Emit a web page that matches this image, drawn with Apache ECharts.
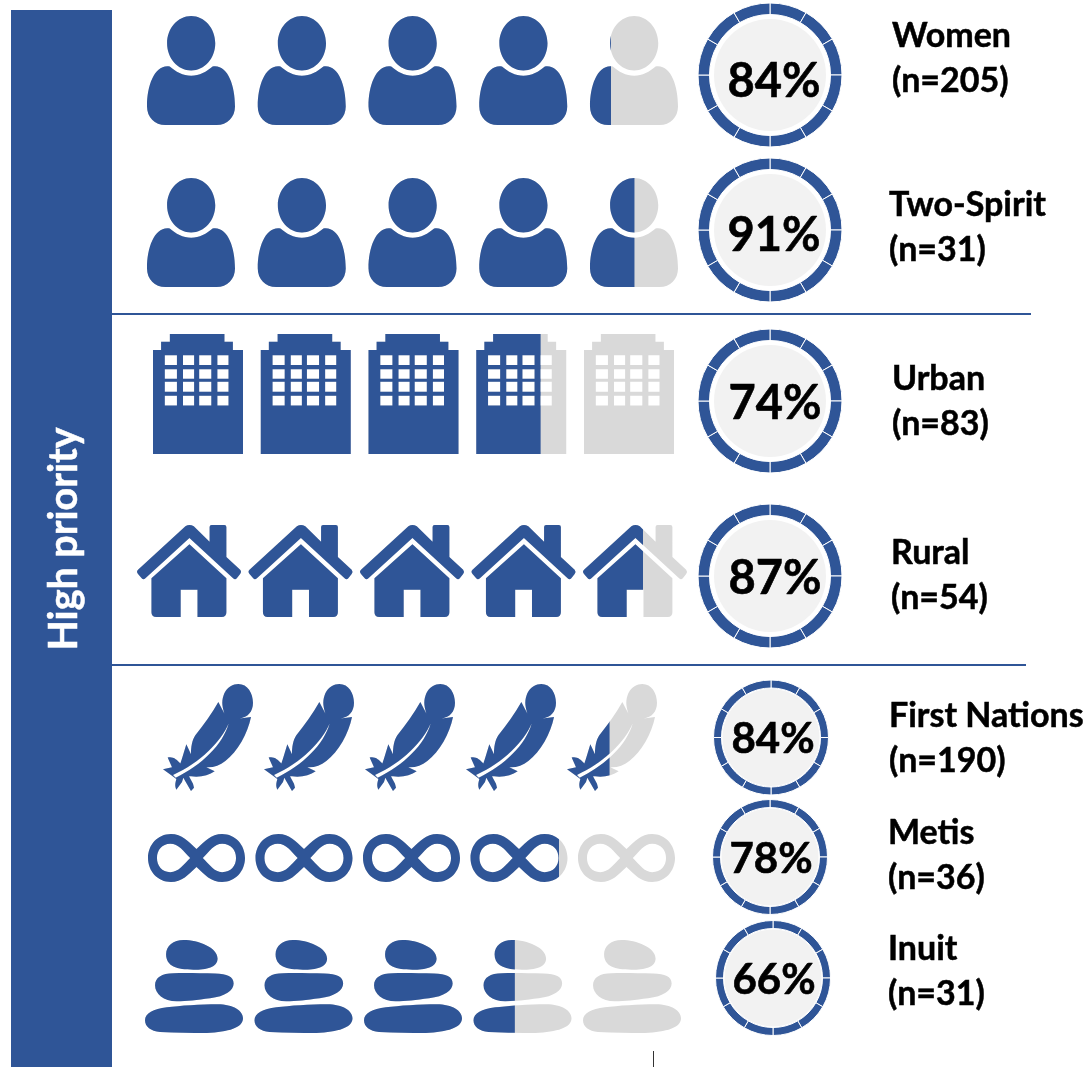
<!DOCTYPE html>
<html><head><meta charset="utf-8">
<style>html,body{margin:0;padding:0;background:#fff}#c{width:1086px;height:1067px}</style>
<script src="https://cdn.jsdelivr.net/npm/echarts@6/dist/echarts.min.js"></script>
</head><body><div id="c"></div>
<script>
// DATA
const groupNames = ['Women','Two-Spirit','Urban','Rural','First Nations','Metis','Inuit'];
const sampleSizes = [205,31,83,54,190,36,31];
const percentages = [84,91,74,87,84,78,66];
// how far along the row of five icons the blue reaches, in icons, as drawn
const filledIcons = [4.37,4.59,3.72,4.6,4.52,3.9,3.45];
const iconsPerRow = 5;
const sideLabel = 'High priority';

const BLUE='#2F5597', GRAY='#D9D9D9', DISC='#F2F2F2', FONT='Lato, Carlito, "Open Sans", sans-serif';

// ICON SHAPES
const person='path://M182 48C222 48 254 85 254 130C254 175 222 212 182 212C142 212 110 175 110 130C110 85 142 48 182 48Z'+
 'M118 200C135 215 158 228 182 228C206 228 229 215 246 200C290 192 313 255 313 320C313 352 290 376 258 376L105 376C73 376 50 352 50 320C50 255 74 192 118 200Z';
function win(x0,x1,y0,y1){return `M${x0} ${y0}L${x0} ${y1}L${x1} ${y1}L${x1} ${y0}Z`;}
let building='path://M393 33L555 33L555 57L580 57L580 82L610 82L610 400L343 400L343 82L367 82L367 57L393 57Z';
[[98,128],[141,170],[179,210],[222,252]].forEach(r=>{[[378,414],[432,465],[480,516],[534,567]].forEach(c=>{building+=win(c[0],c[1],r[0],r[1]);});});
const house='path://M24 178L165 50Q177 42 190 50L237 95L237 52Q237 46 243 46L281 46Q287 46 287 52L287 140L328 178Q333 184 328 190L318 203Q313 209 307 203L177 84L46 203Q40 209 35 203L24 190Q18 184 24 178Z'+
 'M177 103L287 203L287 303Q287 317 273 317L201 317L201 237L151 237L151 317L78 317Q64 317 64 303L64 203Z';
const feather='path://M204 96L222 130C214 105 214 90 222 70C232 50 248 42 264 42C292 42 308 70 308 98C308 125 292 142 268 145L302 141C292 190 262 245 225 272C208 286 190 292 168 291L193 303C175 315 150 322 122 318L116 318L128 340L131 352L122 362C112 345 105 332 99 322L95 335L78 358C72 345 76 335 78 326L64 316L38 297L65 291L52 262C68 258 80 268 90 280L95 265L108 222L122 252C122 230 125 210 135 195C160 165 185 130 204 96Z'+
 'M235 160C213 213 150 277 68 314L76 322C155 284 218 222 235 160Z';
const infinity='path://M122 42C155 42 175 65 199 88C223 65 243 42 276 42C316 42 345 75 345 115C345 155 316 188 276 188C243 188 223 165 199 142C175 165 155 188 122 188C82 188 53 155 53 115C53 75 82 42 122 42Z'+
 'M120 72C95 72 80 92 80 115C80 138 95 158 120 158C145 158 160 135 180 115C160 95 145 72 120 72Z'+
 'M276 72C253 72 238 95 218 115C238 135 253 158 276 158C303 158 318 138 318 115C318 92 303 72 276 72Z';
const stones='path://M160 368C205 368 262 390 262 422C262 448 230 455 190 455C140 455 108 445 108 410C108 385 130 368 160 368Z'+
 'M130 465C170 464 210 465 255 466C290 467 310 475 310 495C310 515 285 533 240 538C200 543 170 547 140 547C100 547 75 525 75 500C75 478 95 465 130 465Z'+
 'M110 565C150 560 210 556 262 556C310 556 338 575 338 597C338 625 295 637 230 640C180 640 140 639 90 637C62 635 45 622 45 603C45 582 70 570 110 565Z';

// LAYOUT: one row per group
const rowIcons=[person,person,building,house,feather,infinity,stones];
const rowBox=[[147,16,531,109,88],[147,178,531,109,88],[153,334,521,120,90],[137,525,550,92,104],[163,684,494,107,90],[148,834,527,48,97],[145,940,536,93,98]];
const ringBox=[[770,75,72,60.5,56],[770,230,72,60.5,56],[770,401,72,60.5,56],[770,576,72,60.5,56],[771,737.5,57.5,49.5,48.5],[770,857,57.5,49.5,48.5],[773,978,57.5,49.5,48.5]];
const pctOffset=[[4,7],[4,6],[5,3],[5,3],[2,2],[1,2],[1,2]];
const labelBox=[[892,36,81],[889,205,250],[892,379,424],[891,553,598],[889,716,761],[888,833,878],[888,949,994]];
const ringSegments=new Array(12).fill(1);

const grid=[],xAxis=[],yAxis=[],series=[],graphic=[];
graphic.push({type:'rect',silent:true,shape:{x:11,y:10,width:101,height:1057},style:{fill:BLUE}});
graphic.push({type:'text',silent:true,x:64,y:539,rotation:Math.PI/2,style:{text:sideLabel,fill:'#fff',stroke:'#fff',lineWidth:0.5,font:'bold 39.5px '+FONT,align:'center',verticalAlign:'middle'}});
graphic.push({type:'line',silent:true,shape:{x1:112,y1:314,x2:1031,y2:314},style:{stroke:BLUE,lineWidth:2}});
graphic.push({type:'line',silent:true,shape:{x1:112,y1:665,x2:1026,y2:665},style:{stroke:BLUE,lineWidth:2}});
graphic.push({type:'line',silent:true,shape:{x1:653.5,y1:1051,x2:653.5,y2:1067},style:{stroke:'#333',lineWidth:1}});

groupNames.forEach((name,i)=>{
  const b=rowBox[i], r=ringBox[i], big=r[2]>60, l=labelBox[i];
  grid.push({left:b[0],top:b[1],width:b[2],height:b[3],containLabel:false});
  xAxis.push({type:'value',gridIndex:i,min:0,max:iconsPerRow,show:false});
  yAxis.push({type:'category',gridIndex:i,data:[name],show:false});
  const common={type:'pictorialBar',xAxisIndex:i,yAxisIndex:i,symbol:rowIcons[i],symbolSize:[b[4],b[3]],
    symbolRepeat:iconsPerRow,symbolBoundingData:iconsPerRow,symbolMargin:0,silent:true,animation:false,barWidth:'100%'};
  series.push(Object.assign({},common,{name:name+' base',z:2,itemStyle:{color:GRAY},data:[iconsPerRow]}));
  series.push(Object.assign({},common,{name:name,z:3,symbolClip:true,itemStyle:{color:BLUE},data:[filledIcons[i]]}));
  series.push({type:'pie',silent:true,animation:false,center:[r[0],r[1]],radius:[r[3],r[2]],startAngle:90,z:2,
    label:{show:false},labelLine:{show:false},itemStyle:{color:BLUE,borderColor:'#fff',borderWidth:1},
    data:ringSegments.map(v=>({value:v}))});
  series.push({type:'pie',silent:true,animation:false,center:[r[0],r[1]],radius:[0,r[4]],z:3,
    labelLine:{show:false},itemStyle:{color:DISC},
    label:{show:true,position:'center',formatter:'{c}%',fontFamily:FONT,fontWeight:'bold',color:'#000',fontSize:big?47:42,offset:pctOffset[i],textBorderColor:'#000',textBorderWidth:0.6},
    data:[{value:percentages[i],name:name}]});
  const ts={fill:'#000',stroke:'#000',lineWidth:0.5,font:'bold 34px '+FONT,align:'left',verticalAlign:'middle'};
  graphic.push({type:'text',silent:true,x:l[0],y:l[1],style:Object.assign({text:name},ts)});
  graphic.push({type:'text',silent:true,x:l[0],y:l[2],style:Object.assign({text:'(n='+sampleSizes[i]+')'},ts)});
});

const chart=echarts.init(document.getElementById('c'),null,{renderer:'canvas'});
chart.setOption({animation:false,backgroundColor:'#fff',tooltip:{show:false},grid,xAxis,yAxis,series,graphic});
</script></body></html>
